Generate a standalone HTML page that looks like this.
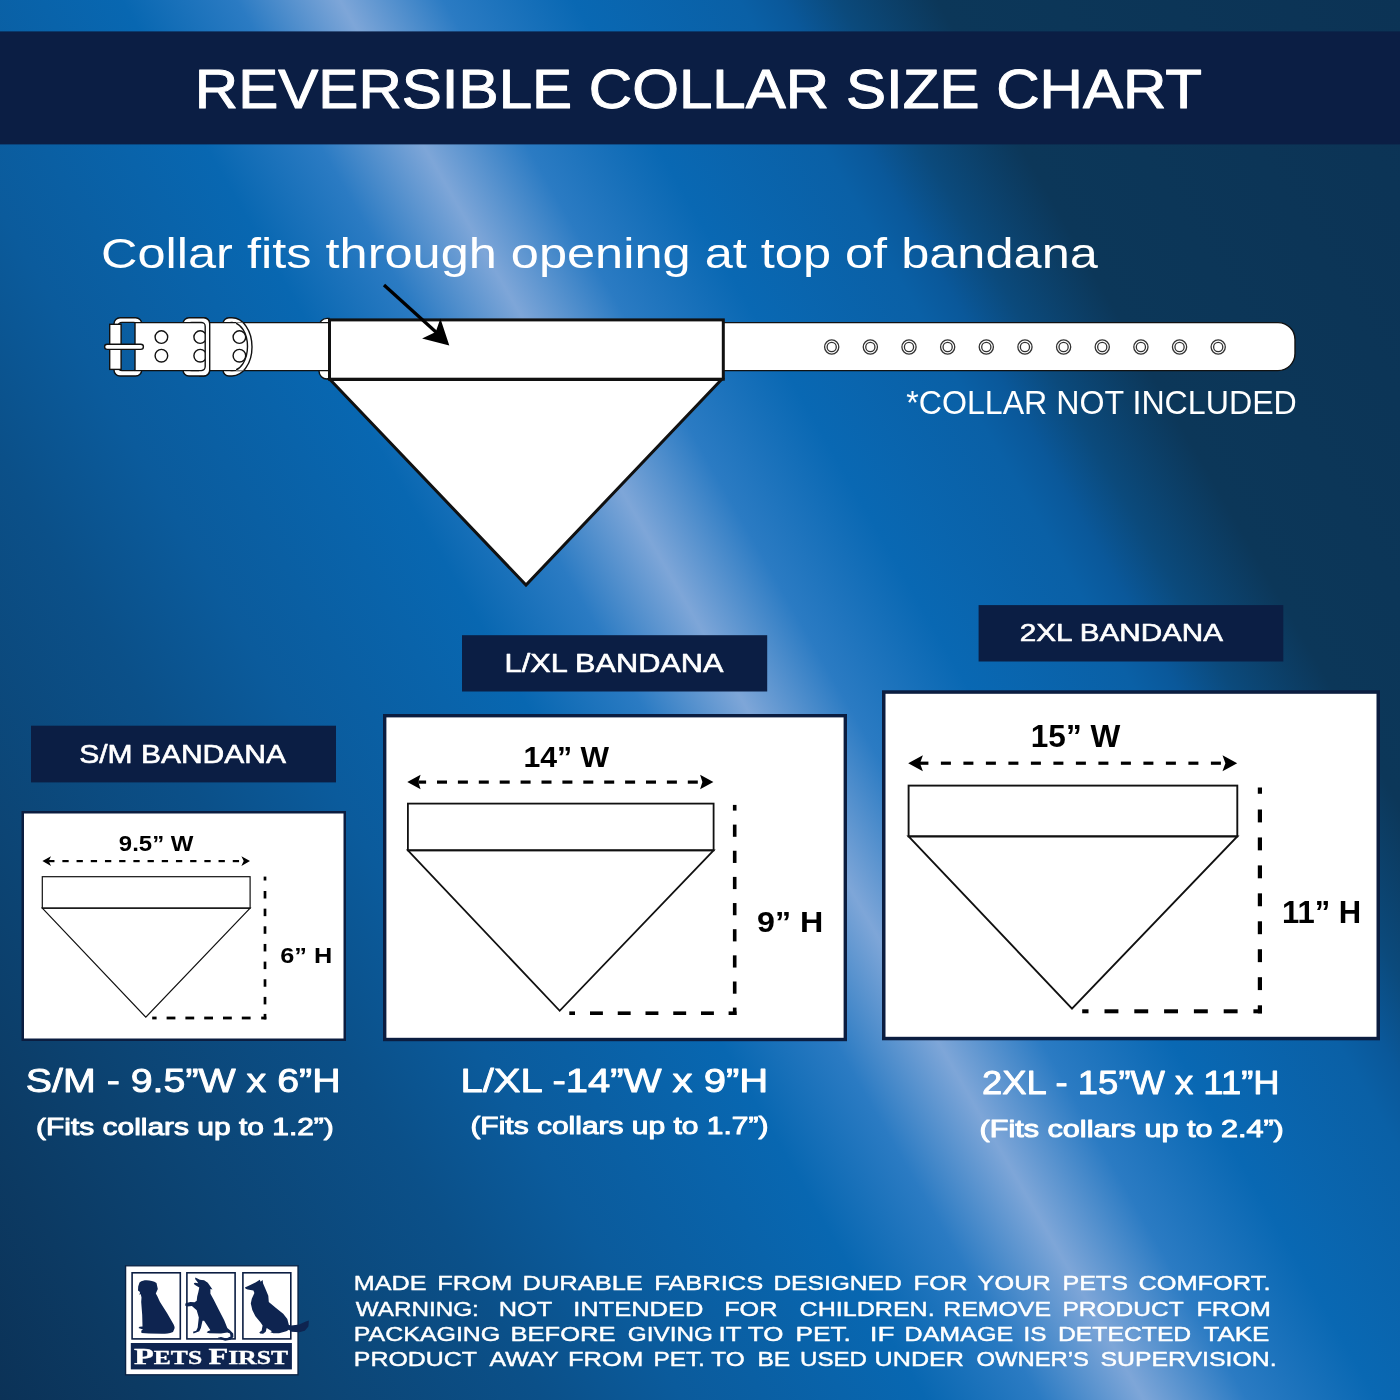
<!DOCTYPE html>
<html><head><meta charset="utf-8"><title>Reversible Collar Size Chart</title>
<style>
html,body{margin:0;padding:0;width:1400px;height:1400px;overflow:hidden;background:#0d4f8c;}
svg{display:block;position:absolute;left:0;top:0;}
text{font-family:"Liberation Sans",Arial,sans-serif;}
</style></head><body>
<svg width="1400" height="1400" viewBox="0 0 1400 1400">
<defs>
<linearGradient id="bg" gradientUnits="userSpaceOnUse" x1="-128.4" y1="1175.8" x2="1528.4" y2="224.2">
<stop offset="0" stop-color="#0b3257"/>
<stop offset="0.065" stop-color="#0c3a63"/>
<stop offset="0.15" stop-color="#0c4575"/>
<stop offset="0.247" stop-color="#0b5089"/>
<stop offset="0.31" stop-color="#0b5b9c"/>
<stop offset="0.42" stop-color="#0867b1"/>
<stop offset="0.472" stop-color="#2b7bc3"/>
<stop offset="0.519" stop-color="#7ea6d8"/>
<stop offset="0.566" stop-color="#2b7bc3"/>
<stop offset="0.625" stop-color="#0968b3"/>
<stop offset="0.7" stop-color="#0a60a6"/>
<stop offset="0.72" stop-color="#0a589a"/>
<stop offset="0.745" stop-color="#0b4a7c"/>
<stop offset="0.79" stop-color="#0c3759"/>
<stop offset="1" stop-color="#0c3355"/>
</linearGradient>
</defs>
<rect x="0" y="0" width="1400" height="1400" fill="url(#bg)"/>
<!-- header -->
<rect x="0" y="31.4" width="1400" height="113" fill="#0b1e44"/>
<!-- collar -->
<g stroke="#111" stroke-width="1.4" fill="#fff">
  <!-- buckle frame ring -->
  <path fill-rule="evenodd" d="M120,317.8 H135.7 A6,6 0 0 1 141.7,323.8 V370 A6,6 0 0 1 135.7,376 H120 A6,6 0 0 1 114,370 V323.8 A6,6 0 0 1 120,317.8 Z M122,322.4 H133.5 A4,4 0 0 1 137.5,326.4 V366.6 A4,4 0 0 1 133.5,370.6 H122 A4,4 0 0 1 118,366.6 V326.4 A4,4 0 0 1 122,322.4 Z"/>
  <!-- keeper ring -->
  <path id="keeperRing" fill-rule="evenodd" d="M189,317.8 H203.7 A6,6 0 0 1 209.7,323.8 V370 A6,6 0 0 1 203.7,376 H189 A6,6 0 0 1 183,370 V323.8 A6,6 0 0 1 189,317.8 Z M191.5,322.4 H201.2 A4,4 0 0 1 205.2,326.4 V366.6 A4,4 0 0 1 201.2,370.6 H191.5 A4,4 0 0 1 187.5,366.6 V326.4 A4,4 0 0 1 191.5,322.4 Z"/>
  <!-- D ring -->
  <path fill-rule="evenodd" d="M229,317.8 H232 A20,29.1 0 0 1 232,376 H229 A6,6 0 0 1 223,370 V323.8 A6,6 0 0 1 229,317.8 Z M227.5,326.4 A4,4 0 0 1 231.5,322.4 H232 A15.5,24.1 0 0 1 232,370.6 H231.5 A4,4 0 0 1 227.5,366.6 Z"/>
  <!-- bandana back piece -->
  <path d="M329,318.4 V379 H327 A8,8 0 0 1 319,371 V326.4 A8,8 0 0 1 327,318.4 Z"/>
  <!-- strap -->
  <path d="M135,322.6 H1278 A17,17 0 0 1 1295,339.6 V353.6 A17,17 0 0 1 1278,370.6 H135 Z"/>
  <!-- holes -->
  <circle cx="161.4" cy="337.1" r="6.3"/>
  <circle cx="161.4" cy="355.7" r="6.3"/>
  <circle cx="200.2" cy="337.1" r="6.3"/>
  <circle cx="200.2" cy="355.7" r="6.3"/>
  <circle cx="239.4" cy="337.1" r="6.3"/>
  <circle cx="239.4" cy="355.7" r="6.3"/>
  <!-- keeper front side -->
  <path clip-path="url(#kclip)" fill-rule="evenodd" d="M189,317.8 H203.7 A6,6 0 0 1 209.7,323.8 V370 A6,6 0 0 1 203.7,376 H189 A6,6 0 0 1 183,370 V323.8 A6,6 0 0 1 189,317.8 Z M191.5,322.4 H201.2 A4,4 0 0 1 205.2,326.4 V366.6 A4,4 0 0 1 201.2,370.6 H191.5 A4,4 0 0 1 187.5,366.6 V326.4 A4,4 0 0 1 191.5,322.4 Z"/>
  <!-- D ring front arc -->
  <path fill-rule="evenodd" clip-path="url(#dclip)" d="M229,317.8 H232 A20,29.1 0 0 1 232,376 H229 A6,6 0 0 1 223,370 V323.8 A6,6 0 0 1 229,317.8 Z M227.5,326.4 A4,4 0 0 1 231.5,322.4 H232 A15.5,24.1 0 0 1 232,370.6 H231.5 A4,4 0 0 1 227.5,366.6 Z"/>
  <!-- buckle left bar -->
  <rect x="109.7" y="324.3" width="11.4" height="45.1"/>
  <!-- prong -->
  <rect x="104.6" y="344.2" width="38.8" height="5.2" rx="2.6"/>
</g>
<clipPath id="kclip"><rect x="199" y="316" width="13" height="62"/></clipPath>
<clipPath id="dclip"><rect x="236" y="322.4" width="30" height="48.2"/></clipPath>
<!-- grommets -->
<g fill="none" stroke="#333" stroke-width="1.3">
  <circle cx="831.7" cy="347" r="7.1"/><circle cx="831.7" cy="347" r="4.6"/>
  <circle cx="870.35" cy="347" r="7.1"/><circle cx="870.35" cy="347" r="4.6"/>
  <circle cx="909" cy="347" r="7.1"/><circle cx="909" cy="347" r="4.6"/>
  <circle cx="947.65" cy="347" r="7.1"/><circle cx="947.65" cy="347" r="4.6"/>
  <circle cx="986.3" cy="347" r="7.1"/><circle cx="986.3" cy="347" r="4.6"/>
  <circle cx="1024.95" cy="347" r="7.1"/><circle cx="1024.95" cy="347" r="4.6"/>
  <circle cx="1063.6" cy="347" r="7.1"/><circle cx="1063.6" cy="347" r="4.6"/>
  <circle cx="1102.25" cy="347" r="7.1"/><circle cx="1102.25" cy="347" r="4.6"/>
  <circle cx="1140.9" cy="347" r="7.1"/><circle cx="1140.9" cy="347" r="4.6"/>
  <circle cx="1179.55" cy="347" r="7.1"/><circle cx="1179.55" cy="347" r="4.6"/>
  <circle cx="1218.2" cy="347" r="7.1"/><circle cx="1218.2" cy="347" r="4.6"/>
</g>
<!-- bandana on collar -->
<g fill="#fff" stroke="#111" stroke-width="3" stroke-linejoin="miter">
  <polygon points="330,379.5 526,585 721.5,379.5"/>
  <rect x="329.5" y="319.9" width="393.8" height="59.3"/>
</g>
<!-- arrow -->
<line x1="384" y1="285" x2="437" y2="333" stroke="#000" stroke-width="3.3"/>
<polygon points="449.3,345.4 440.4,318.6 435.7,332 422.1,338.6" fill="#000"/>
<!-- logo -->
<g id="logo">
<rect x="125.6" y="1265.8" width="172.4" height="109" fill="#fff" stroke="#0a2244" stroke-width="1.3"/>
<g fill="none" stroke="#0b1d42" stroke-width="1.6">
<rect x="132.1" y="1272.8" width="48.2" height="66.1"/>
<rect x="186.9" y="1272.8" width="48.2" height="66.1"/>
<rect x="242.9" y="1272.8" width="47.9" height="66.1"/>
</g>
<rect x="130.8" y="1343" width="161.1" height="26.4" fill="#0e2450"/>
<g fill="#0e2450">
<path d="M139.5,1282.5 C142,1280.5 144,1280.2 146.5,1280.2 C150,1280.2 154,1281 156.5,1283 L157.8,1289 L155.8,1293.5 C157.5,1296 158.5,1299 160,1302 L167,1313 L172.5,1322.5 C174,1325 175,1327 174.5,1328.5 L173,1332 C169,1333.5 166,1333.8 162,1333.8 L149,1333.5 L141.5,1333 L141.2,1330.8 L143,1329.5 L138.5,1328 L139.5,1326.7 L142.5,1326.5 L142.2,1315 L141.2,1302 L141.5,1297.5 L140.7,1294 L139.5,1295 L140,1292 L138,1290.5 L138.2,1286.5 Z"/>
<path d="M195.4,1277.4 L199.9,1279.8 L204.1,1280.3 L207.8,1282.7 L212.5,1289.6 L210.4,1289 L210.4,1293.8 L213.6,1299.6 L218.4,1309.1 L224.2,1320.2 L227.3,1328.1 L230,1330.3 L233.2,1333.4 L233.4,1337.1 L230.5,1339.8 L225.2,1340.8 L218.9,1338.7 L217.8,1337.7 L221,1337.1 L226.3,1338.4 L230.5,1336.6 L230,1333.4 L227.3,1332.4 L221,1333.4 L209.4,1333.2 L206.7,1332.4 L207.8,1331.3 L210.4,1330.3 L207.3,1325.5 L204.1,1320.7 L202.5,1320.7 L200.9,1328.1 L199.3,1331.3 L193.5,1333.4 L193,1331.8 L196.2,1330.8 L197.7,1327.6 L198.8,1317.6 L196.7,1310.2 L191.9,1305.9 L187.2,1306.5 L185.1,1305.4 L185.6,1303.3 L190.3,1302 L194.6,1302.2 L196.7,1300.7 L197.2,1296.4 L198.3,1292.2 L199.3,1287.4 L194.6,1284.8 L193.8,1283.2 L195.1,1282.7 L198.3,1283.2 L196.7,1281.1 L195.1,1279 Z"/>
<path d="M244.9,1287.5 L250.3,1284.9 L255.9,1282.3 L259.8,1279.8 L260.6,1281.8 L262.6,1280 L263.1,1283.4 L265.7,1289.5 L268.3,1295.7 L268.8,1301.9 L276,1308.1 L283.2,1313.7 L287.3,1318.9 L288.9,1325 L291.4,1325.6 L299.2,1324.5 L305.8,1321.4 L308.9,1320.4 L308.4,1326.6 L304.8,1330.7 L299.2,1332.2 L291.4,1331.7 L288.9,1329.7 L286.3,1331.2 L279.1,1333.3 L273.4,1333.3 L270.3,1332.2 L271.9,1331.2 L266.7,1328.1 L265.7,1331.7 L263.1,1333.8 L260.1,1333.5 L259.3,1332.2 L261.6,1330.7 L262.6,1325.6 L260.6,1322.5 L255.4,1316.3 L252.3,1310.1 L250.8,1303.4 L251.8,1298.8 L254.4,1293.1 L253.4,1290.6 L247.7,1289.5 L245.7,1288.8 Z"/>
</g>
<text x="134" y="1363.6" style="font-family:'Liberation Serif',serif" font-weight="700" fill="#fff" stroke="#fff" stroke-width="0.35" textLength="154" lengthAdjust="spacingAndGlyphs"><tspan font-size="23.5">P</tspan><tspan font-size="18.5">ETS </tspan><tspan font-size="23.5">F</tspan><tspan font-size="18.5">IRST</tspan></text>
</g>
<!-- BOXES START -->
<g id="sm">
<rect x="31" y="725.7" width="305" height="56.7" fill="#0b1e44"/>
<rect x="22.75" y="812.25" width="322" height="227.5" fill="#fff" stroke="#0b1d40" stroke-width="2.5"/>
<polygon points="42.3,908.2 145.8,1017.2 250.1,908.2" fill="none" stroke="#111" stroke-width="1.2" stroke-linejoin="miter"/>
<rect x="42.3" y="876.7" width="207.8" height="31.5" fill="none" stroke="#111" stroke-width="1.2"/>
<polygon points="42.4,861.1 51.00,856.30 48.70,861.1 51.00,865.90" fill="#000"/>
<polygon points="250.0,861.1 241.40,856.30 243.70,861.1 241.40,865.90" fill="#000"/>
<rect x="48.70" y="860.00" width="5.77" height="2.2" fill="#000"/>
<rect x="62.37" y="860.00" width="6.30" height="2.2" fill="#000"/>
<rect x="76.56" y="860.00" width="6.30" height="2.2" fill="#000"/>
<rect x="90.77" y="860.00" width="6.30" height="2.2" fill="#000"/>
<rect x="104.97" y="860.00" width="6.30" height="2.2" fill="#000"/>
<rect x="119.17" y="860.00" width="6.30" height="2.2" fill="#000"/>
<rect x="133.37" y="860.00" width="6.30" height="2.2" fill="#000"/>
<rect x="147.56" y="860.00" width="6.30" height="2.2" fill="#000"/>
<rect x="161.76" y="860.00" width="6.30" height="2.2" fill="#000"/>
<rect x="175.96" y="860.00" width="6.30" height="2.2" fill="#000"/>
<rect x="190.16" y="860.00" width="6.30" height="2.2" fill="#000"/>
<rect x="204.36" y="860.00" width="6.30" height="2.2" fill="#000"/>
<rect x="218.56" y="860.00" width="6.30" height="2.2" fill="#000"/>
<rect x="232.76" y="860.00" width="6.30" height="2.2" fill="#000"/>
<rect x="263.65" y="876.60" width="2.7" height="3.90" fill="#000"/>
<rect x="263.65" y="891.00" width="2.7" height="7.50" fill="#000"/>
<rect x="263.65" y="908.65" width="2.7" height="7.50" fill="#000"/>
<rect x="263.65" y="926.30" width="2.7" height="7.50" fill="#000"/>
<rect x="263.65" y="943.95" width="2.7" height="7.50" fill="#000"/>
<rect x="263.65" y="961.60" width="2.7" height="7.50" fill="#000"/>
<rect x="263.65" y="979.25" width="2.7" height="7.50" fill="#000"/>
<rect x="263.65" y="996.90" width="2.7" height="7.50" fill="#000"/>
<rect x="263.65" y="1013.90" width="2.7" height="5.50" fill="#000"/>
<rect x="152.20" y="1016.60" width="4.40" height="2.8" fill="#000"/>
<rect x="166.60" y="1016.60" width="8.80" height="2.8" fill="#000"/>
<rect x="185.40" y="1016.60" width="8.80" height="2.8" fill="#000"/>
<rect x="204.20" y="1016.60" width="8.80" height="2.8" fill="#000"/>
<rect x="223.00" y="1016.60" width="8.80" height="2.8" fill="#000"/>
<rect x="241.80" y="1016.60" width="8.80" height="2.8" fill="#000"/>
<rect x="261.20" y="1016.60" width="5.15" height="2.8" fill="#000"/>
</g>
<g id="lxl">
<rect x="462" y="635.2" width="305.2" height="56.3" fill="#0b1e44"/>
<rect x="384.7" y="715.7" width="460.6" height="323.8" fill="#fff" stroke="#0b1d40" stroke-width="3.4"/>
<polygon points="407.9,850.3 559.7,1010.8 713.6,850.3" fill="none" stroke="#111" stroke-width="1.8" stroke-linejoin="miter"/>
<rect x="407.9" y="803.6" width="305.7" height="46.7" fill="none" stroke="#111" stroke-width="1.8"/>
<polygon points="407.3,782.1 420.60,774.85 418.30,782.1 420.60,789.35" fill="#000"/>
<polygon points="713.4,782.1 700.10,774.85 702.40,782.1 700.10,789.35" fill="#000"/>
<rect x="418.30" y="780.50" width="7.80" height="3.2" fill="#000"/>
<rect x="437.00" y="780.50" width="10.00" height="3.2" fill="#000"/>
<rect x="457.90" y="780.50" width="10.00" height="3.2" fill="#000"/>
<rect x="478.80" y="780.50" width="10.00" height="3.2" fill="#000"/>
<rect x="499.70" y="780.50" width="10.00" height="3.2" fill="#000"/>
<rect x="520.60" y="780.50" width="10.00" height="3.2" fill="#000"/>
<rect x="541.50" y="780.50" width="10.00" height="3.2" fill="#000"/>
<rect x="562.40" y="780.50" width="10.00" height="3.2" fill="#000"/>
<rect x="583.30" y="780.50" width="10.00" height="3.2" fill="#000"/>
<rect x="604.20" y="780.50" width="10.00" height="3.2" fill="#000"/>
<rect x="625.10" y="780.50" width="10.00" height="3.2" fill="#000"/>
<rect x="646.00" y="780.50" width="10.00" height="3.2" fill="#000"/>
<rect x="666.90" y="780.50" width="10.00" height="3.2" fill="#000"/>
<rect x="687.80" y="780.50" width="10.00" height="3.2" fill="#000"/>
<rect x="732.90" y="804.90" width="3.6" height="5.70" fill="#000"/>
<rect x="732.90" y="824.60" width="3.6" height="12.20" fill="#000"/>
<rect x="732.90" y="850.75" width="3.6" height="12.20" fill="#000"/>
<rect x="732.90" y="876.90" width="3.6" height="12.20" fill="#000"/>
<rect x="732.90" y="903.05" width="3.6" height="12.20" fill="#000"/>
<rect x="732.90" y="929.20" width="3.6" height="12.20" fill="#000"/>
<rect x="732.90" y="955.35" width="3.6" height="12.20" fill="#000"/>
<rect x="732.90" y="981.50" width="3.6" height="12.20" fill="#000"/>
<rect x="732.90" y="1007.60" width="3.6" height="7.40" fill="#000"/>
<rect x="569.30" y="1011.40" width="5.70" height="3.6" fill="#000"/>
<rect x="590.00" y="1011.40" width="12.90" height="3.6" fill="#000"/>
<rect x="617.75" y="1011.40" width="12.90" height="3.6" fill="#000"/>
<rect x="645.50" y="1011.40" width="12.90" height="3.6" fill="#000"/>
<rect x="673.25" y="1011.40" width="12.90" height="3.6" fill="#000"/>
<rect x="701.00" y="1011.40" width="12.90" height="3.6" fill="#000"/>
<rect x="728.60" y="1011.40" width="7.90" height="3.6" fill="#000"/>
</g>
<g id="xxl">
<rect x="978.6" y="605.1" width="304.7" height="56.4" fill="#0b1e44"/>
<rect x="883.75" y="692.05" width="494.5" height="346.5" fill="#fff" stroke="#0b1d40" stroke-width="3.5"/>
<polygon points="908.6,836.4 1072,1008.6 1237.3,836.4" fill="none" stroke="#111" stroke-width="1.9" stroke-linejoin="miter"/>
<rect x="908.6" y="785.6" width="328.7" height="50.8" fill="none" stroke="#111" stroke-width="1.9"/>
<polygon points="908.2,763.2 922.90,755.15 920.00,763.2 922.90,771.25" fill="#000"/>
<polygon points="1237.2,763.2 1222.50,755.15 1225.40,763.2 1222.50,771.25" fill="#000"/>
<rect x="920.00" y="761.60" width="8.40" height="3.2" fill="#000"/>
<rect x="940.90" y="761.60" width="10.00" height="3.2" fill="#000"/>
<rect x="963.40" y="761.60" width="10.00" height="3.2" fill="#000"/>
<rect x="985.90" y="761.60" width="10.00" height="3.2" fill="#000"/>
<rect x="1008.40" y="761.60" width="10.00" height="3.2" fill="#000"/>
<rect x="1030.90" y="761.60" width="10.00" height="3.2" fill="#000"/>
<rect x="1053.40" y="761.60" width="10.00" height="3.2" fill="#000"/>
<rect x="1075.90" y="761.60" width="10.00" height="3.2" fill="#000"/>
<rect x="1098.40" y="761.60" width="10.00" height="3.2" fill="#000"/>
<rect x="1120.90" y="761.60" width="10.00" height="3.2" fill="#000"/>
<rect x="1143.40" y="761.60" width="10.00" height="3.2" fill="#000"/>
<rect x="1165.90" y="761.60" width="10.00" height="3.2" fill="#000"/>
<rect x="1188.40" y="761.60" width="10.00" height="3.2" fill="#000"/>
<rect x="1210.90" y="761.60" width="10.00" height="3.2" fill="#000"/>
<rect x="1257.80" y="787.50" width="4.2" height="6.25" fill="#000"/>
<rect x="1257.80" y="809.50" width="4.2" height="12.90" fill="#000"/>
<rect x="1257.80" y="837.45" width="4.2" height="12.90" fill="#000"/>
<rect x="1257.80" y="865.40" width="4.2" height="12.90" fill="#000"/>
<rect x="1257.80" y="893.35" width="4.2" height="12.90" fill="#000"/>
<rect x="1257.80" y="921.30" width="4.2" height="12.90" fill="#000"/>
<rect x="1257.80" y="949.25" width="4.2" height="12.90" fill="#000"/>
<rect x="1257.80" y="977.20" width="4.2" height="12.90" fill="#000"/>
<rect x="1257.80" y="1005.30" width="4.2" height="8.10" fill="#000"/>
<rect x="1082.20" y="1009.30" width="6.30" height="4.0" fill="#000"/>
<rect x="1104.50" y="1009.30" width="13.90" height="4.0" fill="#000"/>
<rect x="1134.30" y="1009.30" width="13.90" height="4.0" fill="#000"/>
<rect x="1164.10" y="1009.30" width="13.90" height="4.0" fill="#000"/>
<rect x="1193.90" y="1009.30" width="13.90" height="4.0" fill="#000"/>
<rect x="1223.70" y="1009.30" width="13.90" height="4.0" fill="#000"/>
<rect x="1253.40" y="1009.30" width="8.60" height="4.0" fill="#000"/>
</g>
<!-- BOXES END -->
<!-- TEXTS START -->
<text x="194.80" y="107.8" font-size="54.94" font-weight="400" fill="#fff" stroke="#fff" stroke-width="1.0" stroke-linejoin="round" textLength="1007.23" lengthAdjust="spacingAndGlyphs">REVERSIBLE COLLAR SIZE CHART</text>
<text x="101.00" y="268.2" font-size="42.15" font-weight="400" fill="#fff" textLength="996.81" lengthAdjust="spacingAndGlyphs">Collar fits through opening at top of bandana</text>
<text x="906.20" y="413.75" font-size="33.43" font-weight="400" fill="#fff" textLength="390.62" lengthAdjust="spacingAndGlyphs">*COLLAR NOT INCLUDED</text>
<text x="79.20" y="762.6" font-size="25.29" font-weight="400" fill="#fff" stroke="#fff" stroke-width="0.6" stroke-linejoin="round" textLength="206.82" lengthAdjust="spacingAndGlyphs">S/M BANDANA</text>
<text x="504.60" y="671.8" font-size="25.15" font-weight="400" fill="#fff" stroke="#fff" stroke-width="0.6" stroke-linejoin="round" textLength="218.83" lengthAdjust="spacingAndGlyphs">L/XL BANDANA</text>
<text x="1019.80" y="641.4" font-size="24.56" font-weight="400" fill="#fff" stroke="#fff" stroke-width="0.6" stroke-linejoin="round" textLength="203.21" lengthAdjust="spacingAndGlyphs">2XL BANDANA</text>
<text x="118.80" y="851.25" font-size="22.02" font-weight="700" fill="#000" textLength="74.63" lengthAdjust="spacingAndGlyphs">9.5” W</text>
<text x="523.40" y="767.1" font-size="29.22" font-weight="700" fill="#000" textLength="85.65" lengthAdjust="spacingAndGlyphs">14” W</text>
<text x="1030.80" y="747.1" font-size="31.69" font-weight="700" fill="#000" textLength="89.49" lengthAdjust="spacingAndGlyphs">15” W</text>
<text x="280.20" y="963.0" font-size="22.38" font-weight="700" fill="#000" textLength="51.99" lengthAdjust="spacingAndGlyphs">6” H</text>
<text x="757.00" y="931.7" font-size="29.07" font-weight="700" fill="#000" textLength="66.31" lengthAdjust="spacingAndGlyphs">9” H</text>
<text x="1282.00" y="923.0" font-size="31.40" font-weight="700" fill="#000" textLength="79.24" lengthAdjust="spacingAndGlyphs">11” H</text>
<text x="25.80" y="1091.8" font-size="33.72" font-weight="400" fill="#fff" stroke="#fff" stroke-width="0.9" stroke-linejoin="round" textLength="314.86" lengthAdjust="spacingAndGlyphs">S/M - 9.5”W x 6”H</text>
<text x="36.00" y="1134.6" font-size="24.27" font-weight="400" fill="#fff" stroke="#fff" stroke-width="1.0" stroke-linejoin="round" textLength="297.82" lengthAdjust="spacingAndGlyphs">(Fits collars up to 1.2”)</text>
<text x="460.40" y="1091.8" font-size="33.58" font-weight="400" fill="#fff" stroke="#fff" stroke-width="0.9" stroke-linejoin="round" textLength="307.90" lengthAdjust="spacingAndGlyphs">L/XL -14”W x 9”H</text>
<text x="470.40" y="1134.3" font-size="24.42" font-weight="400" fill="#fff" stroke="#fff" stroke-width="1.0" stroke-linejoin="round" textLength="298.02" lengthAdjust="spacingAndGlyphs">(Fits collars up to 1.7”)</text>
<text x="982.00" y="1093.9" font-size="33.72" font-weight="400" fill="#fff" stroke="#fff" stroke-width="0.9" stroke-linejoin="round" textLength="297.64" lengthAdjust="spacingAndGlyphs">2XL - 15”W x 11”H</text>
<text x="979.60" y="1137.1" font-size="23.84" font-weight="400" fill="#fff" stroke="#fff" stroke-width="1.0" stroke-linejoin="round" textLength="304.22" lengthAdjust="spacingAndGlyphs">(Fits collars up to 2.4”)</text>
<text x="353.80" y="1290.4" font-size="20.49" font-weight="400" fill="#fff" stroke="#fff" stroke-width="0.45" stroke-linejoin="round" textLength="72.68" lengthAdjust="spacingAndGlyphs">MADE</text>
<text x="437.20" y="1290.4" font-size="20.49" font-weight="400" fill="#fff" stroke="#fff" stroke-width="0.45" stroke-linejoin="round" textLength="75.14" lengthAdjust="spacingAndGlyphs">FROM</text>
<text x="522.60" y="1290.4" font-size="20.49" font-weight="400" fill="#fff" stroke="#fff" stroke-width="0.45" stroke-linejoin="round" textLength="120.27" lengthAdjust="spacingAndGlyphs">DURABLE</text>
<text x="654.20" y="1290.4" font-size="20.49" font-weight="400" fill="#fff" stroke="#fff" stroke-width="0.45" stroke-linejoin="round" textLength="109.10" lengthAdjust="spacingAndGlyphs">FABRICS</text>
<text x="773.40" y="1290.4" font-size="20.49" font-weight="400" fill="#fff" stroke="#fff" stroke-width="0.45" stroke-linejoin="round" textLength="128.27" lengthAdjust="spacingAndGlyphs">DESIGNED</text>
<text x="913.60" y="1290.4" font-size="20.49" font-weight="400" fill="#fff" stroke="#fff" stroke-width="0.45" stroke-linejoin="round" textLength="53.84" lengthAdjust="spacingAndGlyphs">FOR</text>
<text x="977.60" y="1290.4" font-size="20.49" font-weight="400" fill="#fff" stroke="#fff" stroke-width="0.45" stroke-linejoin="round" textLength="73.07" lengthAdjust="spacingAndGlyphs">YOUR</text>
<text x="1062.40" y="1290.4" font-size="20.49" font-weight="400" fill="#fff" stroke="#fff" stroke-width="0.45" stroke-linejoin="round" textLength="65.56" lengthAdjust="spacingAndGlyphs">PETS</text>
<text x="1138.40" y="1290.4" font-size="20.49" font-weight="400" fill="#fff" stroke="#fff" stroke-width="0.45" stroke-linejoin="round" textLength="132.09" lengthAdjust="spacingAndGlyphs">COMFORT.</text>
<text x="355.80" y="1315.5" font-size="20.49" font-weight="400" fill="#fff" stroke="#fff" stroke-width="0.45" stroke-linejoin="round" textLength="123.02" lengthAdjust="spacingAndGlyphs">WARNING:</text>
<text x="498.80" y="1315.5" font-size="20.49" font-weight="400" fill="#fff" stroke="#fff" stroke-width="0.45" stroke-linejoin="round" textLength="53.51" lengthAdjust="spacingAndGlyphs">NOT</text>
<text x="573.20" y="1315.5" font-size="20.49" font-weight="400" fill="#fff" stroke="#fff" stroke-width="0.45" stroke-linejoin="round" textLength="130.11" lengthAdjust="spacingAndGlyphs">INTENDED</text>
<text x="724.20" y="1315.5" font-size="20.49" font-weight="400" fill="#fff" stroke="#fff" stroke-width="0.45" stroke-linejoin="round" textLength="53.14" lengthAdjust="spacingAndGlyphs">FOR</text>
<text x="799.60" y="1315.5" font-size="20.49" font-weight="400" fill="#fff" stroke="#fff" stroke-width="0.45" stroke-linejoin="round" textLength="135.09" lengthAdjust="spacingAndGlyphs">CHILDREN.</text>
<text x="943.20" y="1315.5" font-size="20.49" font-weight="400" fill="#fff" stroke="#fff" stroke-width="0.45" stroke-linejoin="round" textLength="107.86" lengthAdjust="spacingAndGlyphs">REMOVE</text>
<text x="1062.40" y="1315.5" font-size="20.49" font-weight="400" fill="#fff" stroke="#fff" stroke-width="0.45" stroke-linejoin="round" textLength="121.25" lengthAdjust="spacingAndGlyphs">PRODUCT</text>
<text x="1196.40" y="1315.5" font-size="20.49" font-weight="400" fill="#fff" stroke="#fff" stroke-width="0.45" stroke-linejoin="round" textLength="74.57" lengthAdjust="spacingAndGlyphs">FROM</text>
<text x="353.80" y="1340.7" font-size="20.49" font-weight="400" fill="#fff" stroke="#fff" stroke-width="0.45" stroke-linejoin="round" textLength="146.48" lengthAdjust="spacingAndGlyphs">PACKAGING</text>
<text x="510.60" y="1340.7" font-size="20.49" font-weight="400" fill="#fff" stroke="#fff" stroke-width="0.45" stroke-linejoin="round" textLength="104.90" lengthAdjust="spacingAndGlyphs">BEFORE</text>
<text x="627.80" y="1340.7" font-size="20.49" font-weight="400" fill="#fff" stroke="#fff" stroke-width="0.45" stroke-linejoin="round" textLength="85.06" lengthAdjust="spacingAndGlyphs">GIVING</text>
<text x="718.60" y="1340.7" font-size="20.49" font-weight="400" fill="#fff" stroke="#fff" stroke-width="0.45" stroke-linejoin="round" textLength="64.74" lengthAdjust="spacingAndGlyphs">IT TO</text>
<text x="795.40" y="1340.7" font-size="20.49" font-weight="400" fill="#fff" stroke="#fff" stroke-width="0.45" stroke-linejoin="round" textLength="55.49" lengthAdjust="spacingAndGlyphs">PET.</text>
<text x="869.80" y="1340.7" font-size="20.49" font-weight="400" fill="#fff" stroke="#fff" stroke-width="0.45" stroke-linejoin="round" textLength="24.81" lengthAdjust="spacingAndGlyphs">IF</text>
<text x="904.60" y="1340.7" font-size="20.49" font-weight="400" fill="#fff" stroke="#fff" stroke-width="0.45" stroke-linejoin="round" textLength="108.48" lengthAdjust="spacingAndGlyphs">DAMAGE</text>
<text x="1023.40" y="1340.7" font-size="20.49" font-weight="400" fill="#fff" stroke="#fff" stroke-width="0.45" stroke-linejoin="round" textLength="22.97" lengthAdjust="spacingAndGlyphs">IS</text>
<text x="1058.00" y="1340.7" font-size="20.49" font-weight="400" fill="#fff" stroke="#fff" stroke-width="0.45" stroke-linejoin="round" textLength="133.24" lengthAdjust="spacingAndGlyphs">DETECTED</text>
<text x="1203.60" y="1340.7" font-size="20.49" font-weight="400" fill="#fff" stroke="#fff" stroke-width="0.45" stroke-linejoin="round" textLength="65.84" lengthAdjust="spacingAndGlyphs">TAKE</text>
<text x="353.80" y="1365.7" font-size="20.49" font-weight="400" fill="#fff" stroke="#fff" stroke-width="0.45" stroke-linejoin="round" textLength="123.24" lengthAdjust="spacingAndGlyphs">PRODUCT</text>
<text x="489.60" y="1365.7" font-size="20.49" font-weight="400" fill="#fff" stroke="#fff" stroke-width="0.45" stroke-linejoin="round" textLength="69.24" lengthAdjust="spacingAndGlyphs">AWAY</text>
<text x="568.00" y="1365.7" font-size="20.49" font-weight="400" fill="#fff" stroke="#fff" stroke-width="0.45" stroke-linejoin="round" textLength="75.19" lengthAdjust="spacingAndGlyphs">FROM</text>
<text x="653.40" y="1365.7" font-size="20.49" font-weight="400" fill="#fff" stroke="#fff" stroke-width="0.45" stroke-linejoin="round" textLength="91.28" lengthAdjust="spacingAndGlyphs">PET. TO</text>
<text x="757.40" y="1365.7" font-size="20.49" font-weight="400" fill="#fff" stroke="#fff" stroke-width="0.45" stroke-linejoin="round" textLength="32.71" lengthAdjust="spacingAndGlyphs">BE</text>
<text x="800.00" y="1365.7" font-size="20.49" font-weight="400" fill="#fff" stroke="#fff" stroke-width="0.45" stroke-linejoin="round" textLength="66.90" lengthAdjust="spacingAndGlyphs">USED</text>
<text x="874.60" y="1365.7" font-size="20.49" font-weight="400" fill="#fff" stroke="#fff" stroke-width="0.45" stroke-linejoin="round" textLength="89.34" lengthAdjust="spacingAndGlyphs">UNDER</text>
<text x="976.40" y="1365.7" font-size="20.49" font-weight="400" fill="#fff" stroke="#fff" stroke-width="0.45" stroke-linejoin="round" textLength="112.63" lengthAdjust="spacingAndGlyphs">OWNER’S</text>
<text x="1100.40" y="1365.7" font-size="20.49" font-weight="400" fill="#fff" stroke="#fff" stroke-width="0.45" stroke-linejoin="round" textLength="176.25" lengthAdjust="spacingAndGlyphs">SUPERVISION.</text>
<!-- TEXTS END -->
</svg>
</body></html>
